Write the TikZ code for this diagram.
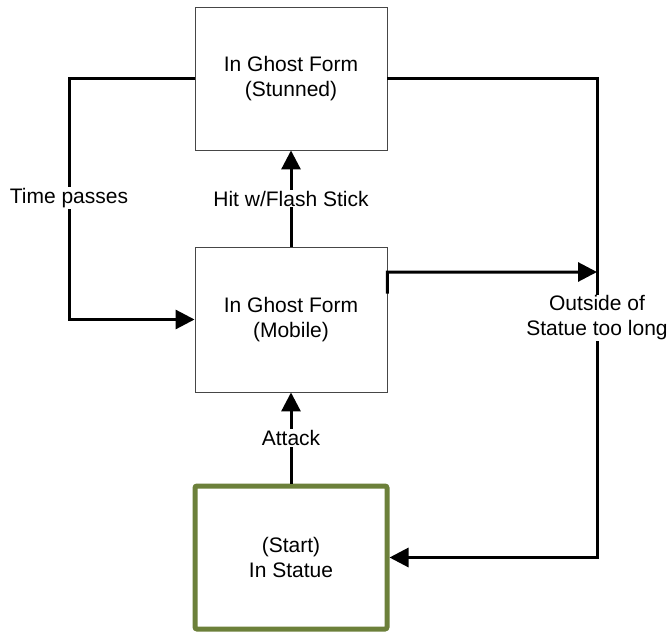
\documentclass[tikz,border=0pt]{standalone}
\usepackage{fontspec}
\setmainfont{Liberation Sans}
\usetikzlibrary{arrows.meta}
\definecolor{boxgray}{RGB}{70,70,70}
\definecolor{startgreen}{RGB}{108,128,58}
\begin{document}
\begin{tikzpicture}[x=1bp,y=-1bp,
  every node/.style={font=\fontsize{21bp}{25bp}\selectfont, align=center},
  state/.style={draw=boxgray, line width=0.9bp, fill=white,
    minimum width=192bp, minimum height=143bp, inner sep=0pt},
  startstate/.style={state, draw=startgreen, line width=5bp, rounded corners=2bp},
  conn/.style={line width=3bp, -{Triangle[length=19bp,width=19bp]}},
  plainconn/.style={line width=3bp},
  lbl/.style={fill=white, inner sep=1bp}]
  \useasboundingbox (0,0) rectangle (669,632);

  % states
  \node[state] (top) at (291,78.5) {In Ghost Form\\(Stunned)};
  \node[state, minimum height=145bp] (mid) at (291,319.5) {In Ghost Form\\(Mobile)};
  \node[startstate] (bot) at (291,557.5) {(Start)\\In Statue};

  % rail positions
  \coordinate (leftrail) at (69,198);
  \coordinate (rightrail) at (597,318);
  \coordinate (railjoin) at (597,272);

  % stunned -> mobile after some time
  \draw[conn] (top.west) -| (leftrail) |- (mid.west);
  \node[lbl] at (leftrail) {Time passes};

  % mobile -> stunned
  \draw[conn] (mid.north) -- node[lbl] {Hit w/Flash Stick} (top.south);

  % statue -> mobile
  \draw[conn] (bot.north) -- node[lbl] {Attack} (mid.south);

  % back into the statue
  \draw[conn] (top.east) -| (rightrail) |- (bot.east);
  \draw[conn] ([yshift=26bp]mid.east) -- ([yshift=47.5bp]mid.east) -- (railjoin);
  \node[lbl] at (rightrail) {Outside of\\Statue too long};
\end{tikzpicture}
\end{document}
